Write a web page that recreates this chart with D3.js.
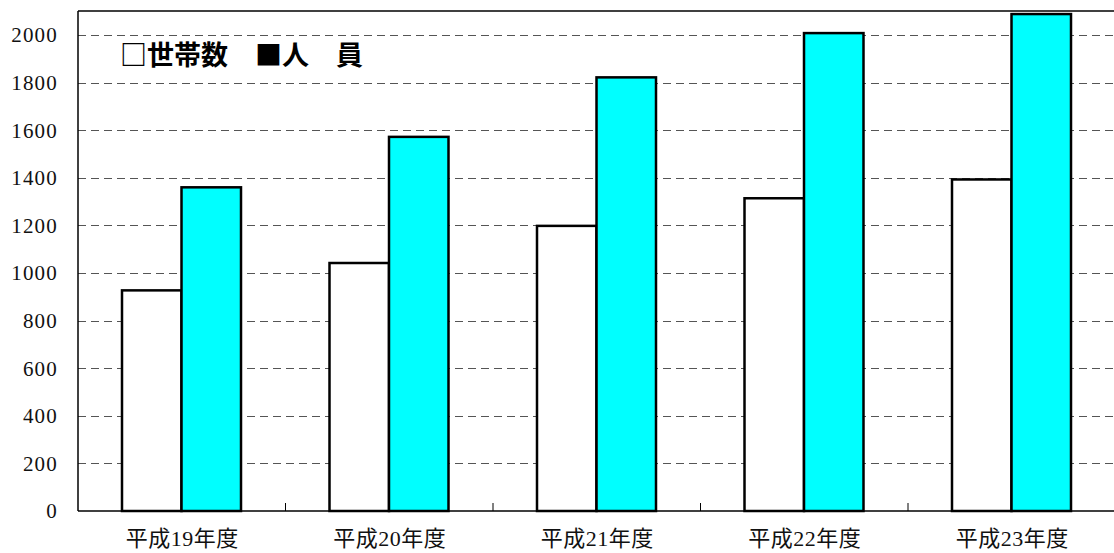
<!DOCTYPE html>
<html><head><meta charset="utf-8">
<script src="https://cdn.jsdelivr.net/npm/d3@7"></script>
<style>body{margin:0;background:#fff}svg{display:block}</style>
</head><body><svg id="c" width="1114" height="553"></svg>
<script>
const categories = ["平成19年度","平成20年度","平成21年度","平成22年度","平成23年度"];
const households = [927, 1042, 1198, 1314, 1393];
const persons = [1360, 1572, 1822, 2008, 2088];
const yTicks = [0,200,400,600,800,1000,1200,1400,1600,1800,2000];
const legendText = "□世帯数　■人　員";

(function(){
const svg = d3.select("#c");
const pL = 78, pR = 1115.5, pT = 11, pB = 511;
const serif = "'Liberation Serif','DejaVu Serif','Times New Roman','Noto Sans CJK JP',serif";
const x = d3.scaleBand().domain(categories).range([pL, pR]).paddingInner(0).paddingOuter(0);
const y = d3.scaleLinear().domain([0, 2100]).range([pB, pT + 0.2]);
const barW = 59.5, off = 44;

// gridlines
svg.append("g").selectAll("line").data(yTicks.filter(d => d > 0)).join("line")
  .attr("x1", pL).attr("x2", 1114)
  .attr("y1", d => Math.round(y(d)) + 0.5).attr("y2", d => Math.round(y(d)) + 0.5)
  .attr("stroke", "#555").attr("stroke-width", 1.2).attr("stroke-dasharray", "8,5");

// bars
const g = svg.append("g");
categories.forEach((c, i) => {
  g.append("rect").attr("x", x(c) + off).attr("y", y(households[i]))
    .attr("width", barW).attr("height", y(0) - y(households[i]))
    .attr("fill", "#fff").attr("stroke", "#000").attr("stroke-width", 2.5);
  g.append("rect").attr("x", x(c) + off + barW).attr("y", y(persons[i]))
    .attr("width", barW).attr("height", y(0) - y(persons[i]))
    .attr("fill", "#00FFFF").attr("stroke", "#000").attr("stroke-width", 2.5);
});

// axes lines
svg.append("line").attr("x1", pL).attr("x2", 1114).attr("y1", pT).attr("y2", pT)
  .attr("stroke", "#000").attr("stroke-width", 1.5);
svg.append("line").attr("x1", pL).attr("x2", pL).attr("y1", pT).attr("y2", pB)
  .attr("stroke", "#000").attr("stroke-width", 1.5);
svg.append("line").attr("x1", pL).attr("x2", 1114).attr("y1", pB).attr("y2", pB)
  .attr("stroke", "#000").attr("stroke-width", 1.5);

// category boundary ticks
svg.append("g").selectAll("line").data(categories.slice(1)).join("line")
  .attr("x1", d => x(d)).attr("x2", d => x(d)).attr("y1", pB).attr("y2", pB - 8)
  .attr("stroke", "#000").attr("stroke-width", 1);

// y labels
svg.append("g").selectAll("text").data(yTicks).join("text")
  .attr("x", 58).attr("y", d => y(d)).attr("dy", "0.35em")
  .attr("text-anchor", "end")
  .attr("font-family", serif)
  .attr("font-size", 21).attr("letter-spacing", 1.2).attr("fill", "#111")
  .text(d => d);

// category labels
svg.append("g").selectAll("text").data(categories).join("text")
  .attr("x", d => x(d) + x.bandwidth() / 2 + 0.5).attr("y", 546)
  .attr("text-anchor", "middle")
  .attr("font-family", serif)
  .attr("font-size", 22).attr("letter-spacing", 0.5).attr("fill", "#111")
  .text(d => d);

// legend
svg.append("text").attr("x", 120).attr("y", 65)
  .attr("font-family", "'Noto Sans CJK JP',sans-serif").attr("font-weight", "bold")
  .attr("font-size", 27).attr("fill", "#000")
  .text(legendText);
})();
</script></body></html>
